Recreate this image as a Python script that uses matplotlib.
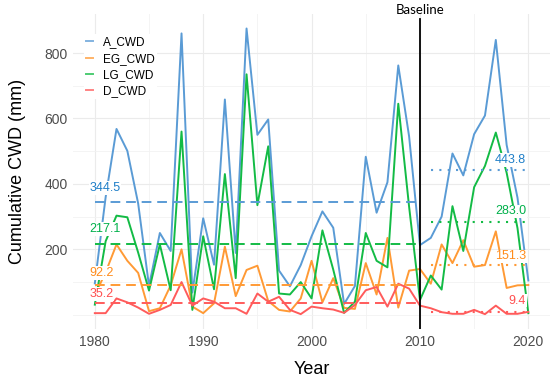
import numpy as np
import matplotlib.pyplot as plt
from matplotlib.ticker import MultipleLocator

# yearly cumulative CWD (mm)
years = list(range(1980, 2021))

a_cwd = [96, 360, 568, 501, 340, 88, 250, 195, 860, 68,
         295, 153, 658, 189, 875, 550, 597, 135, 87, 152,
         240, 316, 266, 33, 88, 483, 312, 405, 762, 545,
         213, 235, 300, 493, 426, 552, 609, 840, 519, 358,
         105]
eg_cwd = [60, 130, 215, 165, 128, 11, 20, 90, 200, 25,
          5, 35, 208, 57, 137, 150, 42, 15, 10, 50,
          165, 38, 112, 21, 18, 158, 62, 235, 22, 135,
          140, 95, 215, 158, 228, 147, 152, 255, 82, 90,
          91]
lg_cwd = [31, 225, 303, 298, 190, 74, 215, 75, 560, 15,
          240, 78, 430, 112, 735, 335, 515, 65, 62, 100,
          50, 258, 138, 6, 40, 250, 165, 145, 645, 330,
          45, 120, 77, 332, 195, 390, 455, 557, 434, 265,
          5]
d_cwd = [5, 5, 50, 38, 22, 3, 15, 30, 100, 28,
         50, 40, 20, 20, 3, 65, 40, 55, 15, 2,
         25, 20, 16, 6, 30, 75, 85, 25, 95, 80,
         28, 20, 8, 3, 3, 15, 2, 28, 3, 3,
         9]

series_names = ["A_CWD", "EG_CWD", "LG_CWD", "D_CWD"]
baseline_means = [344.5, 92.2, 217.1, 35.2]   # 1980-2010
future_means = [443.8, 151.3, 283.0, 9.4]     # 2011-2020

line_colors = ["#5A9BD5", "#FF9A35", "#13BB45", "#FF5B5B"]
text_colors = ["#1F7FC8", "#FF8C1A", "#00B04A", "#FF4F4F"]

plt.rcParams['font.family'] = ['Liberation Sans', 'DejaVu Sans']

fig = plt.figure(figsize=(5.5, 3.81), dpi=100)
ax = fig.add_axes([0.133, 0.136, 0.867, 0.827])

all_series = [a_cwd, eg_cwd, lg_cwd, d_cwd]
for vals, name, col in zip(all_series, series_names, line_colors):
    ax.plot(years, vals, color=col, lw=1.4, label=name, zorder=3)

# period means: dashed for baseline, dotted for 2011-2020
left_offsets = [44, 36, 46, 29]
right_offsets = [30, 27, 33, 34]
box = dict(facecolor="white", edgecolor="none", pad=0.6)
for i in range(4):
    ax.plot([1980, 2010], [baseline_means[i]] * 2, color=line_colors[i],
            lw=1.4, dashes=(5, 3), zorder=4)
    ax.plot([2011, 2020], [future_means[i]] * 2, color=line_colors[i],
            lw=1.5, dashes=(1, 3), zorder=4)
    ax.text(1979.5, baseline_means[i] + left_offsets[i], f"{baseline_means[i]:.1f}",
            color=text_colors[i], fontsize=9, ha="left", va="center",
            bbox=box, zorder=5)
    ax.text(2019.8, future_means[i] + right_offsets[i], f"{future_means[i]:.1f}",
            color=text_colors[i], fontsize=9, ha="right", va="center",
            bbox=box, zorder=5)

# baseline marker
ax.axvline(2010, ymin=0, ymax=0.985, color="black", lw=1.3, zorder=6)
ax.text(2010, 1.012, "Baseline", transform=ax.get_xaxis_transform(),
        ha="center", va="center", fontsize=9.5, family=['Lato', 'DejaVu Sans'],
        clip_on=False)

ax.set_xlim(1978, 2022)
ax.set_ylim(-44, 919)
ax.xaxis.set_major_locator(MultipleLocator(10))
ax.xaxis.set_minor_locator(MultipleLocator(5))
ax.set_yticks([200, 400, 600, 800])
ax.set_yticks([0, 100, 300, 500, 700], minor=True)

ax.grid(which="major", color="#EBEBEB", lw=0.8)
ax.grid(which="minor", color="#F2F2F2", lw=0.6)
ax.set_axisbelow(True)
for s in ax.spines.values():
    s.set_visible(False)
ax.tick_params(which="both", length=0, labelsize=10, colors="#4D4D4D", pad=4)

ax.set_xlabel("Year", fontsize=13, labelpad=9)
ax.set_ylabel("Cumulative CWD (mm)", fontsize=13, labelpad=13)

leg = ax.legend(loc="upper left", bbox_to_anchor=(0.01, 0.955), fontsize=8.5,
                frameon=True, handlelength=0.6, handletextpad=0.8,
                labelspacing=0.35, borderpad=0.2)
leg.get_frame().set_edgecolor("none")
leg.get_frame().set_facecolor("white")
leg.get_frame().set_alpha(1)
for h in leg.get_lines():
    h.set_alpha(0.75)

fig.savefig("out.png", dpi=100)
